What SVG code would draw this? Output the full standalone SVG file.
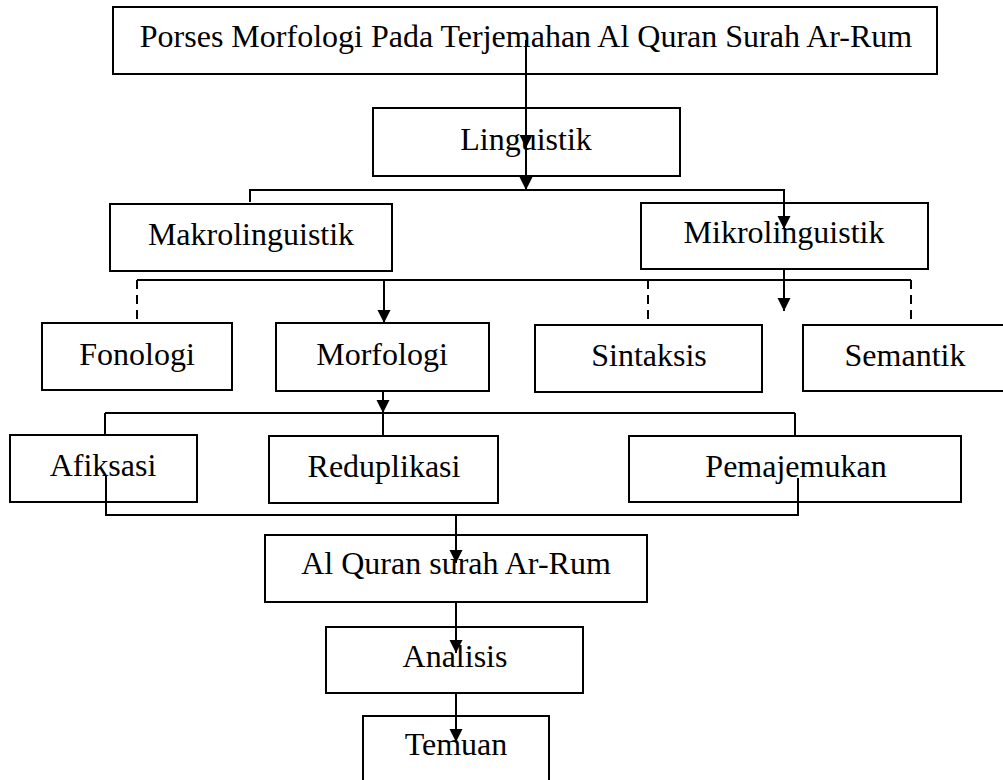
<svg xmlns="http://www.w3.org/2000/svg" width="1003" height="780" viewBox="0 0 1003 780">
<style>
.box{fill:#fff;stroke:#000;stroke-width:2}
.t{font-family:"Liberation Serif","Times New Roman",serif;font-size:32px;fill:#000;text-anchor:middle}
.c{fill:none;stroke:#000;stroke-width:2}
.d{fill:none;stroke:#000;stroke-width:2;stroke-dasharray:9 6}
.a{marker-end:url(#ah)}
</style>
<defs>
<marker id="ah" markerUnits="userSpaceOnUse" markerWidth="14" markerHeight="14" refX="13" refY="6.5" orient="auto">
<path d="M0,0 L13,6.5 L0,13 z" fill="#000"/>
</marker>
</defs>
<rect width="1003" height="780" fill="#fff"/>
<g id="n-top"><rect class="box" x="113" y="7" width="824" height="67"/><text class="t" x="526" y="47">Porses Morfologi Pada Terjemahan Al Quran Surah Ar-Rum</text></g>
<g id="n-linguistik"><rect class="box" x="373" y="108" width="307" height="68"/><text class="t" x="526" y="150">Linguistik</text></g>
<g id="n-makro"><rect class="box" x="110" y="204" width="282" height="67"/><text class="t" x="251" y="245">Makrolinguistik</text></g>
<g id="n-mikro"><rect class="box" x="641" y="203" width="287" height="66"/><text class="t" x="784" y="243">Mikrolinguistik</text></g>
<g id="n-fonologi"><rect class="box" x="42" y="323" width="190" height="67"/><text class="t" x="137" y="365">Fonologi</text></g>
<g id="n-morfologi"><rect class="box" x="276" y="323" width="213" height="68"/><text class="t" x="382" y="365">Morfologi</text></g>
<g id="n-sintaksis"><rect class="box" x="535" y="325" width="227" height="67"/><text class="t" x="649" y="366">Sintaksis</text></g>
<g id="n-semantik"><rect class="box" x="803" y="325" width="205" height="66"/><text class="t" x="905" y="366">Semantik</text></g>
<g id="n-afiksasi"><rect class="box" x="10" y="435" width="187" height="67"/><text class="t" x="103" y="476">Afiksasi</text></g>
<g id="n-reduplikasi"><rect class="box" x="269" y="436" width="229" height="67"/><text class="t" x="384" y="477">Reduplikasi</text></g>
<g id="n-pemajemukan"><rect class="box" x="629" y="436" width="332" height="66"/><text class="t" x="796" y="477">Pemajemukan</text></g>
<g id="n-alquran"><rect class="box" x="265" y="535" width="382" height="67"/><text class="t" x="456" y="574">Al Quran surah Ar-Rum</text></g>
<g id="n-analisis"><rect class="box" x="326" y="627" width="257" height="66"/><text class="t" x="455" y="667">Analisis</text></g>
<g id="n-temuan"><rect class="box" x="363" y="716" width="186" height="70"/><text class="t" x="456" y="755">Temuan</text></g>
<g id="connectors">
<line class="c a" x1="526" y1="40" x2="526" y2="148"/>
<line class="c a" x1="526" y1="148" x2="526" y2="190"/>
<polyline class="c a" points="250,202 250,190 784,190 784,229"/>
<line class="c a" x1="784" y1="269" x2="784" y2="311"/>
<line class="c" x1="137" y1="280" x2="911" y2="280"/>
<line class="d" x1="137" y1="280" x2="137" y2="323"/>
<line class="d" x1="648" y1="280" x2="648" y2="325"/>
<line class="d" x1="911" y1="280" x2="911" y2="325"/>
<line class="c a" x1="384" y1="280" x2="384" y2="323"/>
<line class="c a" x1="383" y1="391" x2="383" y2="413"/>
<line class="c" x1="105" y1="413" x2="795" y2="413"/>
<line class="c" x1="105" y1="413" x2="105" y2="435"/>
<line class="c" x1="383" y1="413" x2="383" y2="436"/>
<line class="c" x1="795" y1="413" x2="795" y2="436"/>
<polyline class="c" points="106,475 106,515 798,515 798,478"/>
<line class="c a" x1="456" y1="515" x2="456" y2="563"/>
<line class="c a" x1="456" y1="602" x2="456" y2="653"/>
<line class="c a" x1="456" y1="693" x2="456" y2="742"/>
</g>
</svg>
